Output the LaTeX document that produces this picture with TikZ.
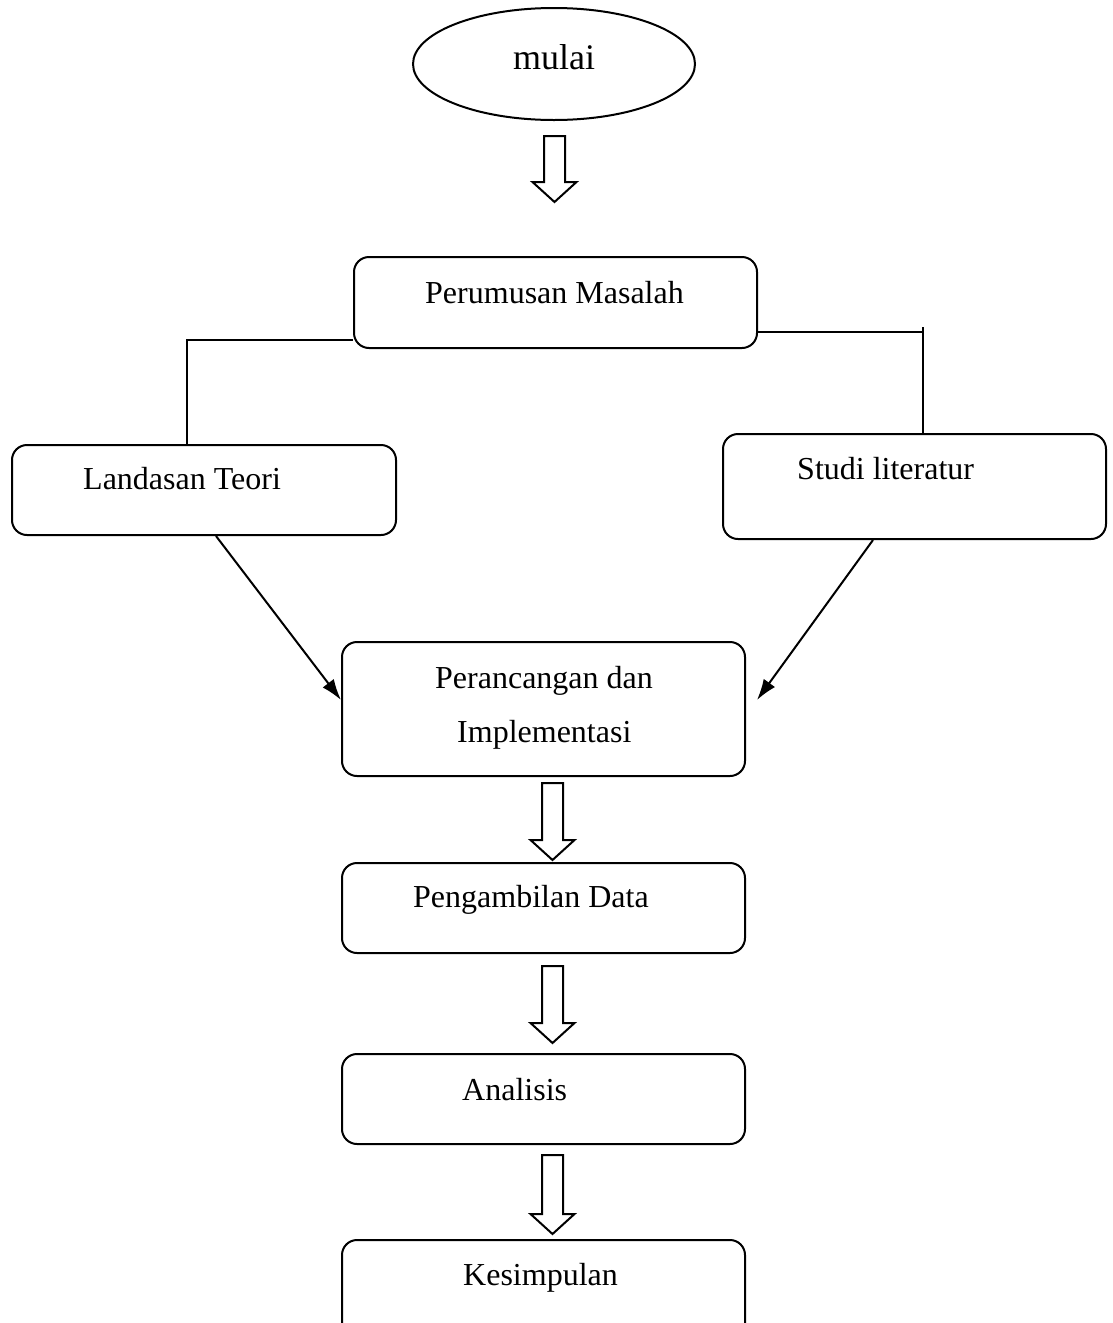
\documentclass[tikz,border=0pt]{standalone}
\usepackage{fontspec}
\setmainfont{Liberation Serif}
\usetikzlibrary{arrows.meta,shapes.geometric}
\tikzset{
  box/.style={draw, line width=2pt, rounded corners=15pt, inner sep=0pt},
  lbl/.style={anchor=base west, inner sep=0pt, font=\fontsize{32}{38}\selectfont},
  conn/.style={line width=2pt},
  arr/.style={line width=2pt, -{Latex[length=21pt,width=14pt]}},
  blk/.style={draw, line width=2pt, fill=white, line join=miter}
}
\newcommand\blockarr[3]{% x-center, top, tip
  \draw[blk] ({#1-10.5},#2) -- ({#1+10.5},#2) -- ({#1+10.5},{#3-20}) -- ({#1+22},{#3-20})
    -- (#1,#3) -- ({#1-22},{#3-20}) -- ({#1-10.5},{#3-20}) -- cycle;}
\begin{document}
\begin{tikzpicture}[x=1pt,y=-1pt]
\useasboundingbox (0,0) rectangle (1113,1323);
% nodes
\node[draw, ellipse, line width=2pt, minimum width=282pt, minimum height=112pt, inner sep=0pt] (mulai) at (554,64) {};
\node[anchor=base west, inner sep=0pt, font=\fontsize{36}{42}\selectfont] (tmulai) at (513,69) {mulai};

\node[box, minimum width=403pt, minimum height=91pt] (perumusan) at (555.5,302.5) {};
\node[lbl] (tperumusan) at (425,303) {Perumusan Masalah};

\node[box, minimum width=384pt, minimum height=90pt] (landasan) at (204,490) {};
\node[lbl] (tlandasan) at (83,489) {Landasan Teori};

\node[box, minimum width=383pt, minimum height=105pt] (studi) at (914.5,486.5) {};
\node[lbl] (tstudi) at (797,479) {Studi literatur};

\node[box, minimum width=403pt, minimum height=134pt] (perancangan) at (543.5,709) {};
\node[lbl] (tperancangan1) at (435,688) {Perancangan dan};
\node[lbl] (tperancangan2) at (457,742) {Implementasi};

\node[box, minimum width=403pt, minimum height=90pt] (pengambilan) at (543.5,908) {};
\node[lbl] (tpengambilan) at (413,907) {Pengambilan Data};

\node[box, minimum width=403pt, minimum height=90pt] (analisis) at (543.5,1099) {};
\node[lbl] (tanalisis) at (462,1100) {Analisis};

\node[box, minimum width=403pt, minimum height=100pt] (kesimpulan) at (543.5,1290) {};
\node[lbl] (tkesimpulan) at (463,1285) {Kesimpulan};

% connectors
\draw[conn] (perumusan.west |- 0,340) -| (landasan.north -| 187,0);
\draw[conn] (perumusan.east |- 0,332) -- (923,332);
\draw[conn] (923,327) -- (studi.north -| 923,0);
\coordinate (rtip) at (757,700);
\draw[arr] (landasan.south -| 216,0) -- (perancangan.west |- 0,700);
\draw[arr] (studi.south -| 873,0) -- (rtip);

% block arrows
\blockarr{554.5}{136}{202}
\blockarr{552.5}{783}{860}
\blockarr{552.5}{966}{1043}
\blockarr{552.5}{1155}{1234}
\end{tikzpicture}
\end{document}
